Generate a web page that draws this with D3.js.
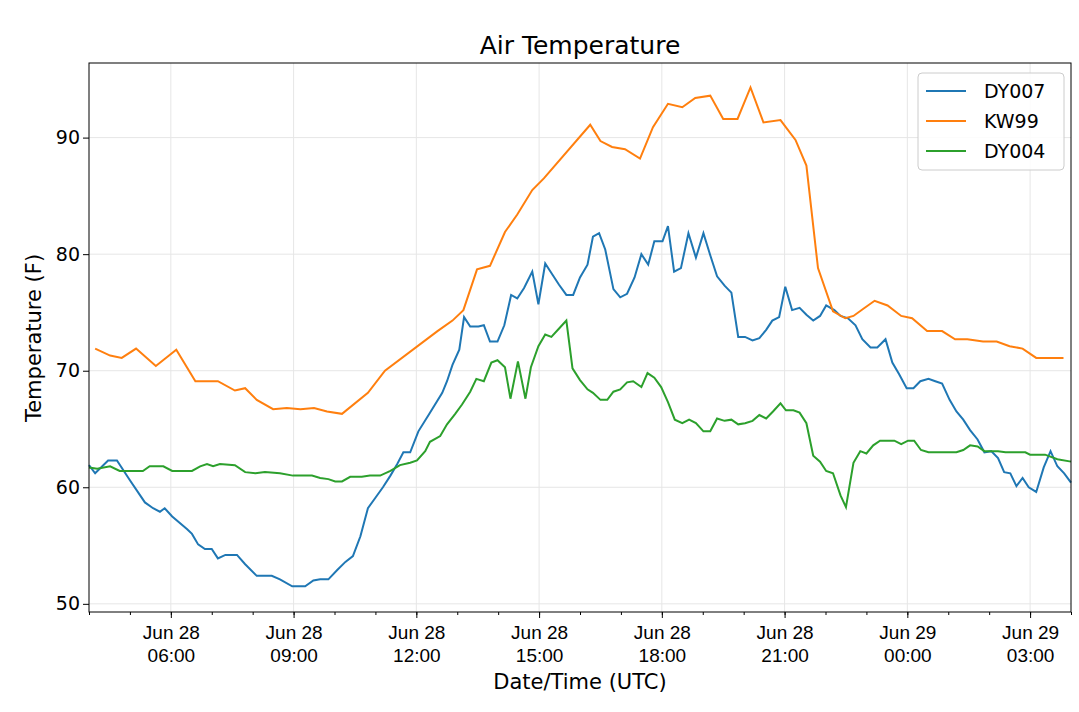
<!DOCTYPE html>
<html><head><meta charset="utf-8">
<script src="https://cdn.jsdelivr.net/npm/d3@7"></script>
<style>body{margin:0;background:#fff;font-family:"DejaVu Sans",sans-serif}</style>
</head><body><svg id="chart" width="1079" height="712"></svg>
<script>
// minutes after Jun 28 04:00 UTC, temperature (F)
var dy007 = [[0,61.9],[9,61.2],[28,62.3],[41,62.3],[60,60.6],[82,58.7],[94,58.2],[104,57.9],[111,58.2],[122,57.5],[144,56.4],[151,56.0],[160,55.1],[170,54.7],[180,54.7],[189,53.9],[200,54.2],[217,54.2],[229,53.4],[246,52.4],[268,52.4],[280,52.1],[298,51.5],[317,51.5],[329,52.0],[339,52.1],[351,52.1],[364,52.9],[376,53.6],[387,54.1],[398,55.8],[409,58.2],[420,59.1],[431,60.0],[442,61.0],[452,62.0],[461,63.0],[471,63.0],[483,64.8],[500,66.4],[518,68.1],[525,69.1],[533,70.5],[543,71.8],[550,74.6],[559,73.8],[571,73.8],[579,73.9],[588,72.5],[599,72.5],[609,73.9],[619,76.5],[628,76.2],[638,77.1],[650,78.5],[659,75.7],[669,79.2],[679,78.3],[689,77.4],[700,76.5],[710,76.5],[720,78.0],[731,79.1],[739,81.5],[748,81.8],[757,80.4],[769,77.0],[779,76.3],[789,76.6],[800,78.0],[810,80.0],[820,79.1],[829,81.1],[841,81.1],[849,82.4],[858,78.5],[868,78.8],[879,81.8],[890,79.7],[901,81.8],[911,79.9],[921,78.1],[932,77.3],[942,76.7],[952,72.9],[962,72.9],[973,72.6],[983,72.8],[993,73.5],[1002,74.3],[1012,74.6],[1021,77.2],[1031,75.2],[1042,75.4],[1052,74.8],[1062,74.3],[1072,74.7],[1081,75.6],[1093,75.2],[1102,74.7],[1113,74.5],[1124,73.9],[1134,72.7],[1146,72.0],[1156,72.0],[1168,72.7],[1178,70.7],[1188,69.7],[1199,68.5],[1209,68.5],[1219,69.1],[1231,69.3],[1241,69.1],[1251,68.9],[1262,67.5],[1272,66.5],[1282,65.8],[1292,64.9],[1303,64.1],[1313,63.0],[1323,63.1],[1333,62.5],[1342,61.3],[1351,61.2],[1360,60.1],[1369,60.8],[1378,60.0],[1389,59.6],[1400,61.7],[1410,63.1],[1420,61.8],[1430,61.2],[1440,60.4]];
var kw99 = [[9,71.9],[31,71.3],[48,71.1],[69,71.9],[98,70.4],[128,71.8],[156,69.1],[189,69.1],[214,68.3],[229,68.5],[246,67.5],[270,66.7],[290,66.8],[310,66.7],[330,66.8],[349,66.5],[371,66.3],[409,68.1],[434,70.0],[511,73.4],[533,74.3],[549,75.2],[569,78.7],[588,79.0],[610,81.9],[628,83.4],[650,85.5],[667,86.5],[735,91.1],[750,89.7],[767,89.2],[786,89.0],[808,88.2],[827,90.9],[849,92.9],[870,92.6],[889,93.4],[911,93.6],[930,91.6],[951,91.6],[970,94.3],[989,91.3],[1014,91.5],[1036,89.8],[1052,87.6],[1069,78.8],[1091,75.1],[1109,74.5],[1121,74.7],[1135,75.3],[1152,76.0],[1171,75.6],[1191,74.7],[1207,74.5],[1229,73.4],[1251,73.4],[1270,72.7],[1288,72.7],[1311,72.5],[1331,72.5],[1350,72.1],[1369,71.9],[1389,71.1],[1429,71.1]];
var dy004 = [[0,61.7],[12,61.6],[31,61.8],[45,61.4],[79,61.4],[89,61.8],[109,61.8],[122,61.4],[151,61.4],[163,61.8],[173,62.0],[182,61.8],[192,62.0],[214,61.9],[229,61.3],[244,61.2],[258,61.3],[280,61.2],[299,61.0],[327,61.0],[339,60.8],[351,60.7],[361,60.5],[371,60.5],[383,60.9],[400,60.9],[412,61.0],[427,61.0],[442,61.4],[456,61.9],[471,62.1],[481,62.3],[493,63.1],[500,63.9],[515,64.4],[525,65.4],[537,66.3],[547,67.1],[559,68.2],[568,69.3],[579,69.1],[590,70.7],[599,70.9],[610,70.3],[618,67.6],[629,70.8],[640,67.6],[648,70.3],[659,72.1],[669,73.1],[678,72.9],[689,73.6],[700,74.3],[709,70.2],[720,69.2],[731,68.4],[739,68.1],[750,67.5],[760,67.5],[769,68.2],[779,68.4],[789,69.0],[798,69.1],[810,68.6],[819,69.8],[829,69.4],[839,68.6],[849,67.3],[859,65.8],[870,65.5],[880,65.8],[890,65.5],[901,64.8],[911,64.8],[921,65.9],[932,65.7],[942,65.8],[952,65.4],[962,65.5],[973,65.7],[983,66.2],[993,65.9],[1003,66.5],[1014,67.2],[1022,66.6],[1033,66.6],[1042,66.4],[1052,65.5],[1062,62.7],[1072,62.2],[1081,61.4],[1091,61.2],[1102,59.3],[1110,58.3],[1121,62.1],[1131,63.1],[1140,62.9],[1150,63.6],[1160,64.0],[1171,64.0],[1181,64.0],[1191,63.7],[1201,64.0],[1210,64.0],[1220,63.2],[1231,63.0],[1241,63.0],[1272,63.0],[1282,63.2],[1292,63.6],[1303,63.5],[1313,63.1],[1333,63.1],[1344,63.0],[1373,63.0],[1380,62.8],[1402,62.8],[1420,62.4],[1440,62.2]];
var seriesNames = ["DY007", "KW99", "DY004"];
var seriesColors = ["#1f77b4", "#ff7f0e", "#2ca02c"];
var yTicks = [50, 60, 70, 80, 90];

var start = new Date(Date.UTC(2018, 5, 28, 4, 0));
var toDate = function(m) { return new Date(start.getTime() + m * 60000); };

var svg = d3.select("#chart");
var L = 89, R = 1071, T = 63, B = 612;

var x = d3.scaleUtc().domain([start, toDate(1440)]).range([L, R]);
var y = d3.scaleLinear().domain([49.3, 96.4]).range([B, T]);

var majors = d3.utcHour.every(3).range(toDate(120), toDate(1441));
var minors = d3.utcHour.every(1).range(start, toDate(1441));

// grid
svg.append("g").selectAll("line").data(majors).join("line")
  .attr("x1", x).attr("x2", x).attr("y1", T).attr("y2", B)
  .attr("stroke", "#e6e6e6");
svg.append("g").selectAll("line").data(yTicks).join("line")
  .attr("x1", L).attr("x2", R).attr("y1", y).attr("y2", y)
  .attr("stroke", "#e6e6e6");

var line = d3.line().x(function(d) { return x(toDate(d[0])); }).y(function(d) { return y(d[1]); });
[dy007, kw99, dy004].forEach(function(s, i) {
  svg.append("path").datum(s).attr("d", line)
    .attr("fill", "none").attr("stroke", seriesColors[i]).attr("stroke-width", 2);
});

// axes
var fmtDay = d3.utcFormat("%b %d"), fmtHr = d3.utcFormat("%H:%M");
var xa = svg.append("g").attr("transform", "translate(0," + B + ")")
  .call(d3.axisBottom(x).tickValues(majors).tickSize(6).tickFormat(""));
xa.selectAll(".tick").each(function(d) {
  var t = d3.select(this).append("text").attr("fill", "#000").attr("font-size", 19)
    .attr("text-anchor", "middle");
  t.append("tspan").attr("x", 0).attr("y", 27).text(fmtDay(d));
  t.append("tspan").attr("x", 0).attr("y", 50).text(fmtHr(d));
});
svg.append("g").attr("transform", "translate(0," + B + ")")
  .call(d3.axisBottom(x).tickValues(minors).tickSize(3).tickFormat(""))
  .select(".domain").remove();
var ya = svg.append("g").attr("transform", "translate(" + L + ",0)")
  .call(d3.axisLeft(y).tickValues(yTicks).tickSize(6));
ya.selectAll("text").attr("font-size", 19).attr("fill", "#000").attr("font-family", "DejaVu Sans");
svg.selectAll(".domain").remove();
svg.append("rect").attr("x", L).attr("y", T).attr("width", R - L).attr("height", B - T)
  .attr("fill", "none").attr("stroke", "#000").attr("stroke-width", 1);

svg.append("text").attr("x", 580).attr("y", 54).attr("text-anchor", "middle")
  .attr("font-size", 25).text("Air Temperature");
svg.append("text").attr("x", 580).attr("y", 689).attr("text-anchor", "middle")
  .attr("font-size", 21).text("Date/Time (UTC)");
svg.append("text").attr("transform", "translate(41,338) rotate(-90)").attr("text-anchor", "middle")
  .attr("font-size", 21).text("Temperature (F)");

// legend
var lg = svg.append("g").attr("transform", "translate(918,73)");
lg.append("rect").attr("width", 146).attr("height", 97).attr("rx", 4)
  .attr("fill", "#fff").attr("fill-opacity", 0.85).attr("stroke", "#ccc");
seriesNames.forEach(function(n, i) {
  var yy = 18 + i * 30;
  lg.append("line").attr("x1", 8).attr("x2", 48).attr("y1", yy).attr("y2", yy)
    .attr("stroke", seriesColors[i]).attr("stroke-width", 2);
  lg.append("text").attr("x", 66).attr("y", yy + 7).attr("font-size", 19).text(n);
});
</script></body></html>
